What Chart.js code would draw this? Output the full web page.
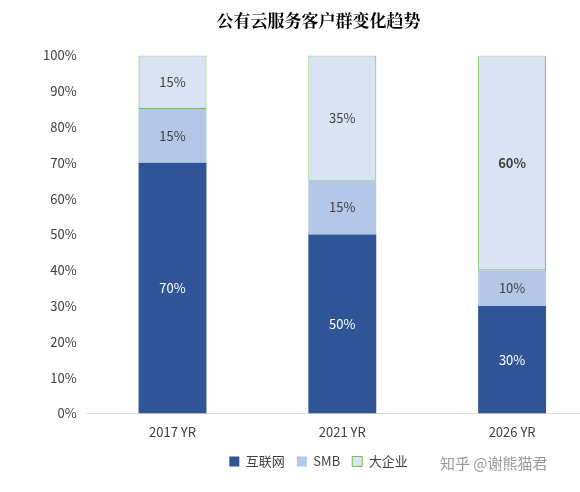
<!DOCTYPE html><html><head><meta charset="utf-8">
<script src="https://cdn.jsdelivr.net/npm/chart.js"></script>
<style>body{margin:0;background:#fff;overflow:hidden}#o{width:580px;height:492px;overflow:hidden;position:relative}#w{width:597px;height:492px;position:relative}</style></head><body>
<div id="o"><div id="w"><canvas id="c"></canvas></div><div style="position:absolute;left:440px;top:452px;font:15px 'Noto Sans CJK SC';color:#999">知乎 @谢熊猫君</div></div>
<script>
const categories=["2017 YR","2021 YR","2026 YR"];
const internet=[70,50,30];
const smb=[15,15,10];
const enterprise=[15,35,60];
const labelPlugin={id:'lbl',afterDatasetsDraw(ch){const ctx=ch.ctx;ch.data.datasets.forEach((ds,i)=>{ch.getDatasetMeta(i).data.forEach((b,j)=>{const y=(b.y+b.base)/2;ctx.save();ctx.font=(i==2&&j==2?'bold ':'')+'13px "Noto Sans CJK SC"';ctx.fillStyle=i==0?'#fff':'#404040';ctx.textAlign='center';ctx.textBaseline='middle';ctx.fillText(ds.data[j]+'%',b.x,y);ctx.restore();});});}};
new Chart(document.getElementById('c'),{type:'bar',data:{labels:categories,datasets:[
{label:'互联网',data:internet,backgroundColor:'#2F5597',borderWidth:0,barPercentage:0.4,categoryPercentage:1},
{label:'SMB',data:smb,backgroundColor:'#B4C7E7',borderWidth:0,barPercentage:0.4,categoryPercentage:1},
{label:'大企业',data:enterprise,backgroundColor:'#DAE3F3',borderColor:'#70C050',borderWidth:1,borderSkipped:false,barPercentage:0.4,categoryPercentage:1}]},
options:{responsive:true,maintainAspectRatio:false,animation:false,
layout:{padding:{left:40,right:0,top:0,bottom:14}},
plugins:{title:{display:true,text:'公有云服务客户群变化趋势',font:{family:'"Noto Serif CJK SC","Noto Sans CJK SC"',size:17,weight:'bold'},color:'#000',padding:{top:10,bottom:25}},
legend:{position:'bottom',labels:{boxWidth:10,boxHeight:10,font:{family:'"Noto Sans CJK SC"',size:13},color:'#404040',padding:12},onClick:null},tooltip:{enabled:false}},
scales:{x:{stacked:true,grid:{display:false},border:{color:'#d9d9d9'},ticks:{color:'#404040',font:{family:'"Noto Sans CJK SC"',size:13}}},
y:{stacked:true,min:0,max:100,grid:{display:false},border:{display:false},ticks:{stepSize:10,callback:v=>v+'%',color:'#404040',font:{family:'"Noto Sans CJK SC"',size:13}}}}},
plugins:[labelPlugin]});
</script></body></html>
